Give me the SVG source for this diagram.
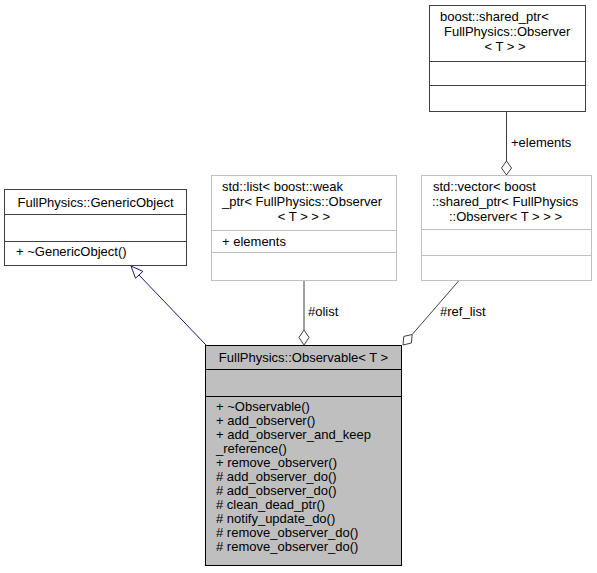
<svg xmlns="http://www.w3.org/2000/svg" width="597" height="573" viewBox="0 0 597 573">
<style>
text { font-family: "Liberation Sans", Arial, sans-serif; font-size: 13px; fill: #000; }
.c { text-anchor: middle; }
.box { fill: #fff; stroke: #404040; stroke-width: 1; }
.gbox { fill: #fff; stroke: #bfbfbf; stroke-width: 1; }
.main { fill: #bfbfbf; stroke: #000; stroke-width: 1; }
.div { stroke: #404040; stroke-width: 1; }
.gdiv { stroke: #bfbfbf; stroke-width: 1; }
.mdiv { stroke: #000; stroke-width: 1; }
.assoc { fill: none; stroke: #404040; stroke-width: 1; }
.dia { fill: #fff; stroke: #404040; stroke-width: 1; }
.gen { fill: none; stroke: #191970; stroke-width: 1; }
.genhead { fill: #fff; stroke: #191970; stroke-width: 1; }
</style>
<rect width="597" height="573" fill="#fff"/>
<g id="connectors">
  <path class="gen" d="M206,345 L138,274"/>
  <polygon class="genhead" points="131,266 142.9,271.4 135.5,278.2"/>
  <path class="assoc" d="M304,280.5 L304,330"/>
  <polygon class="dia" points="304,330 309,337.5 304,345 299,337.5"/>
  <text x="308" y="316">#olist</text>
  <path class="assoc" d="M459,280.5 L412.2,334.5"/>
  <polygon class="dia" points="403,345 411.4,343 412.2,334.5 403.8,336.4"/>
  <text x="440" y="316">#ref_list</text>
  <path class="assoc" d="M506.5,111.5 L506.5,161"/>
  <polygon class="dia" points="506.5,161 511.5,168 506.5,175 501.5,168"/>
  <text x="511" y="147">+elements</text>
</g>
<g id="node_generic">
  <rect class="box" x="4.5" y="189.5" width="182" height="76"/>
  <line class="div" x1="4.5" y1="214.5" x2="186.5" y2="214.5"/>
  <line class="div" x1="4.5" y1="241.5" x2="186.5" y2="241.5"/>
  <text class="c" x="95.5" y="207">FullPhysics::GenericObject</text>
  <text x="16" y="256">+ ~GenericObject()</text>
</g>
<g id="node_list">
  <rect class="gbox" x="211.5" y="175.5" width="185" height="105"/>
  <line class="gdiv" x1="211.5" y1="230.5" x2="396.5" y2="230.5"/>
  <line class="gdiv" x1="211.5" y1="252.5" x2="396.5" y2="252.5"/>
  <text x="222" y="191">std::list&lt; boost::weak</text>
  <text x="222" y="206">_ptr&lt; FullPhysics::Observer</text>
  <text class="c" x="304" y="221">&lt; T &gt; &gt; &gt;</text>
  <text x="222" y="246">+ elements</text>
</g>
<g id="node_vector">
  <rect class="gbox" x="421.5" y="175.5" width="170" height="105"/>
  <line class="gdiv" x1="421.5" y1="229.5" x2="591.5" y2="229.5"/>
  <line class="gdiv" x1="421.5" y1="255.5" x2="591.5" y2="255.5"/>
  <text x="433" y="191">std::vector&lt; boost</text>
  <text x="432" y="206">::shared_ptr&lt; FullPhysics</text>
  <text class="c" x="505.5" y="221">::Observer&lt; T &gt; &gt; &gt;</text>
</g>
<g id="node_shared">
  <rect class="box" x="429.5" y="5.5" width="156" height="106"/>
  <line class="div" x1="429.5" y1="61.5" x2="585.5" y2="61.5"/>
  <line class="div" x1="429.5" y1="85.5" x2="585.5" y2="85.5"/>
  <text x="440" y="21">boost::shared_ptr&lt;</text>
  <text x="444" y="36">FullPhysics::Observer</text>
  <text class="c" x="505" y="51">&lt; T &gt; &gt;</text>
</g>
<g id="node_observable">
  <rect class="main" x="205.5" y="345.5" width="196" height="220"/>
  <line class="mdiv" x1="205.5" y1="369.5" x2="401.5" y2="369.5"/>
  <line class="mdiv" x1="205.5" y1="396.5" x2="401.5" y2="396.5"/>
  <text class="c" x="303.5" y="362">FullPhysics::Observable&lt; T &gt;</text>
  <text x="216" y="411">+ ~Observable()</text>
  <text x="216" y="425">+ add_observer()</text>
  <text x="216" y="439">+ add_observer_and_keep</text>
  <text x="216" y="453">_reference()</text>
  <text x="216" y="467">+ remove_observer()</text>
  <text x="216" y="481"># add_observer_do()</text>
  <text x="216" y="495"># add_observer_do()</text>
  <text x="216" y="509"># clean_dead_ptr()</text>
  <text x="216" y="523"># notify_update_do()</text>
  <text x="216" y="537"># remove_observer_do()</text>
  <text x="216" y="551"># remove_observer_do()</text>
</g>
</svg>
